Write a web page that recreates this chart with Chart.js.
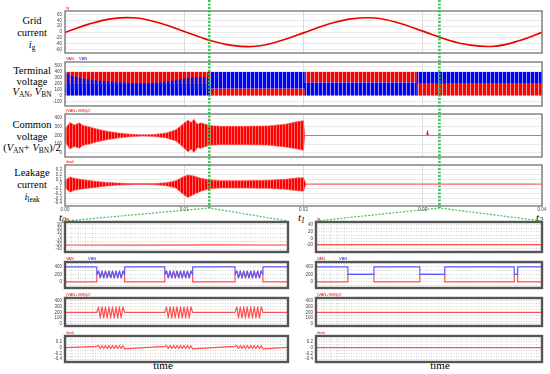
<!DOCTYPE html>
<html>
<head>
<meta charset="utf-8">
<script src="https://cdn.jsdelivr.net/npm/chart.js@4.4.0/dist/chart.umd.min.js"></script>
<style>
  body { margin: 0; width: 550px; height: 374px; position: relative; background: #fff; overflow: hidden; font-family: "Liberation Serif", serif; }
  canvas.p { position: absolute; }
  #ov { position: absolute; left: 0; top: 0; z-index: 5; pointer-events: none; }
  .lbl { position: absolute; left: 0; width: 64px; text-align: center; font-size: 10.5px; color: #000; }
  .lbl sub, .tl sub { font-size: 70%; vertical-align: -2px; line-height: 0; }
  .tl { position: absolute; font-size: 11px; font-style: italic; }
  .time { position: absolute; width: 40px; text-align: center; font-size: 11px; }
</style>
</head>
<body>
<div class="lbl" style="top:15px;line-height:12px">Grid<br>current<br><i>i</i><sub>g</sub></div>
<div class="lbl" style="top:66px;line-height:10.5px">Terminal<br>voltage<br><i>V</i><sub>AN</sub>, <i>V</i><sub>BN</sub></div>
<div class="lbl" style="top:119px;line-height:11.5px">Common<br>voltage<br>(<i>V</i><sub>AN</sub>+ <i>V</i><sub>BN</sub>)/2</div>
<div class="lbl" style="top:167px;line-height:12px">Leakage<br>current<br><i>i</i><sub>leak</sub></div>
<div class="tl" style="left:59px;top:211px">t<sub>0</sub></div>
<div class="tl" style="left:298px;top:211px">t<sub>1</sub></div>
<div class="tl" style="left:536px;top:211px">t<sub>2</sub></div>
<div class="time" style="left:143px;top:359px">time</div>
<div class="time" style="left:420px;top:359px">time</div>
<canvas id="ov" width="550" height="374"></canvas>
<script>
// main traces, time in seconds
const tTicks = [0, 0.01, 0.02, 0.03, 0.04];
const tTickLabels = ["0.00", "0.01", "0.02", "0.03", "0.04"];
const zoomT = [0.0121, 0.0314];

const igT = [0, 0.002, 0.004, 0.006, 0.008, 0.010, 0.012, 0.014, 0.016, 0.018, 0.020,
             0.022, 0.024, 0.026, 0.028, 0.030, 0.032, 0.034, 0.036, 0.038, 0.040];
const igA = [-2, 27, 46, 48, 30, 2, -27, -46, -49, -31, -3, 26, 45, 48, 31, 3, -26, -45, -49, -31, -1];
const igTicks = [-60, -40, -20, 0, 20, 40, 60];

// terminal voltage: red / blue switching bands
const tvT   = [0, 0.0122, 0.0122, 0.0201, 0.0201, 0.0295, 0.0295, 0.04];
const vanHi = [400, 400, 120, 120, 400, 400, 200, 200];
const vanLo = [200, 200, 0, 0, 220, 220, 0, 0];
const vbnHi = [200, 200, 400, 400, 220, 220, 400, 400];
const vbnLo = [0, 0, 120, 120, 0, 0, 200, 200];
const noiseT  = [0, 0.0006, 0.0015, 0.0025, 0.0035, 0.0045, 0.006, 0.0075, 0.0085, 0.0095, 0.0105, 0.0115, 0.0122];
const noiseHi = [390, 330, 290, 260, 240, 225, 212, 215, 235, 270, 300, 310, 300];
const noiseLo = [40, 90, 125, 150, 165, 180, 190, 185, 165, 130, 105, 100, 110];
const tvTicks = [-100, 0, 100, 200, 300, 400, 500];

// common voltage envelope
const cvT  = [0, 0.0004, 0.0008, 0.0012, 0.0015, 0.002, 0.0025, 0.0035, 0.0045, 0.0055, 0.0065, 0.0075, 0.0085, 0.0093, 0.0098, 0.0103,
              0.0106, 0.0108, 0.0111, 0.0114, 0.0121, 0.0130, 0.0150, 0.0170, 0.0185, 0.0195, 0.0200, 0.0201, 0.0303, 0.0304, 0.0305, 0.0400];
const cvHi = [270, 350, 320, 345, 315, 300, 280, 250, 228, 214, 208, 212, 230, 265, 320, 375, 350, 385, 330, 345, 315, 305, 305, 310, 330, 360, 370, 200, 200, 262, 200, 200];
const cvLo = [130, 45, 75, 55, 88, 100, 122, 152, 173, 187, 193, 189, 172, 138, 80, 15, 45, 5, 60, 55, 88, 95, 95, 90, 68, 45, 30, 200, 200, 200, 200, 200];
const cvTicks = [0, 100, 200, 300, 400];

// leakage current envelope
const lkT  = [0, 0.0004, 0.0008, 0.0015, 0.0025, 0.0035, 0.0045, 0.0055, 0.0065, 0.0075, 0.0085, 0.0093, 0.0098, 0.0103,
              0.0108, 0.0114, 0.0121, 0.0130, 0.0150, 0.0170, 0.0185, 0.0195, 0.0200, 0.0202, 0.0400];
const lkHi = [0.07, 0.15, 0.12, 0.09, 0.06, 0.035, 0.02, 0.012, 0.01, 0.012, 0.03, 0.07, 0.14, 0.19, 0.17, 0.12, 0.09, 0.07, 0.07, 0.08, 0.10, 0.13, 0.13, 0, 0];
const lkLo = [-0.07, -0.17, -0.13, -0.10, -0.07, -0.04, -0.022, -0.013, -0.01, -0.013, -0.035, -0.08, -0.19, -0.28, -0.22, -0.15, -0.10, -0.08, -0.08, -0.09, -0.11, -0.14, -0.15, 0, 0];
const lkTicks = [-0.4, -0.3, -0.2, -0.1, 0, 0.1, 0.2, 0.3];

// zoom window 1 (around zoomT[0])
const w1Range = [-8.75, 11.25];
const w1Bursts = [-5.9, 0.2, 6.5];
const w1BurstLen = 2.5;
const w1Ig = [-20, -20.5, -19.5, -20];
const vBurst  = [200, 290, 110, 290, 110, 290, 110, 290, 110, 290, 110, 290, 110, 290, 110, 290, 200];
const cvBurst = [200, 295, 105, 295, 105, 295, 105, 295, 105, 295, 105, 295, 105, 295, 105, 295, 200];
const lkBurst = [0.05, 0.08, -0.03, 0.08, -0.03, 0.08, -0.03, 0.08, -0.03, 0.08, -0.03, 0.08, -0.03, 0.08, -0.03, 0.07, -0.04];

// zoom window 2 (around zoomT[1])
const w2Range = [-3.2, 17.2];
const w2Mid = [[-0.32, 2.03], [6.17, 8.42], [14.7, 15.0]];
const w2Ig = [-19, -19];
const zoomMajors = [0, 10];

const AX = 22, PAD = 2;
const RED = "#ff0000", BLUE = "#0000ff";

function stripes(c1, c2, w1, w2) {
  const cv = document.createElement("canvas");
  cv.width = w1 + w2; cv.height = 1;
  const g = cv.getContext("2d");
  g.fillStyle = c1; g.fillRect(0, 0, w1, 1);
  g.fillStyle = c2; g.fillRect(w1, 0, w2, 1);
  return g.createPattern(cv, "repeat");
}
const redBand = stripes("#ff0000", "#ff9a9a", 3, 1);
const blueBand = stripes("#0000ff", "#9a9aff", 3, 1);
const blueNoise = stripes("#0010e0", "rgba(60,60,255,0.25)", 2, 2);
const redEnv = stripes("#ff0000", "#ff6a6a", 2, 1);

const pts = (xs, ys) => xs.map((x, i) => ({ x: x, y: ys[i] }));

const frame = {
  id: "frame",
  afterDraw(c, args, o) {
    const a = c.chartArea, g = c.ctx;
    g.save();
    g.strokeStyle = o.color; g.lineWidth = o.width;
    g.strokeRect(a.left, a.top, a.right - a.left, a.bottom - a.top);
    g.restore();
  }
};

function gridTicks(min, max, step) {
  const t = [];
  for (let v = Math.ceil(min / step) * step; v <= max + 1e-9; v += step) t.push({ value: +v.toFixed(5) });
  return t;
}

function panel(box, cfg) {
  const xh = cfg.xLabels ? 7 : 0;
  const cv = document.createElement("canvas");
  cv.className = "p";
  cv.width = box[2] - box[0] + AX + 6;
  cv.height = box[3] - box[1] + PAD * 2 + xh;
  cv.style.left = (box[0] - AX) + "px";
  cv.style.top = (box[1] - PAD) + "px";
  document.body.appendChild(cv);
  const z = cfg.zoom;
  const tickFont = { size: 4.5, family: "Arial" };
  const xGrid = z
    ? { color: c => zoomMajors.some(m => Math.abs(c.tick.value - m) < 1e-6) ? "#8a8a8a" : "#cfcfcf", lineWidth: 0.8, drawTicks: false }
    : { color: "#d2d2d2", lineWidth: 0.8, drawTicks: false };
  const yGrid = z
    ? { color: "#c4c4c4", lineWidth: 0.8, drawTicks: false }
    : { color: "#e4e4e4", lineWidth: 0.8, drawTicks: false };
  const border = z ? { display: false, dash: [1, 1.5] } : { display: false };
  return new Chart(cv, {
    type: "line",
    data: { datasets: cfg.datasets },
    options: {
      responsive: false, animation: false, events: [],
      layout: { padding: { top: PAD, right: 6, bottom: PAD, left: 0 } },
      plugins: { legend: { display: false }, tooltip: { enabled: false },
                 frame: z ? { color: "#555", width: 2.4 } : { color: "#7d7d7d", width: 1.4 } },
      elements: { point: { radius: 0 }, line: { tension: 0, borderJoinStyle: "round" } },
      scales: {
        x: {
          type: "linear", min: cfg.x[0], max: cfg.x[1],
          afterBuildTicks: s => { s.ticks = z ? gridTicks(cfg.x[0], cfg.x[1], 0.625) : tTicks.map(v => ({ value: v })); },
          afterFit: s => { s.height = xh; s.paddingLeft = 0; s.paddingRight = 0; },
          ticks: { display: !!cfg.xLabels, autoSkip: false, maxRotation: 0, padding: 1, font: tickFont, color: "#444",
                   callback: (v, i) => tTickLabels[i] },
          grid: xGrid, border: border
        },
        y: {
          min: cfg.y[0], max: cfg.y[1],
          afterBuildTicks: s => { s.ticks = cfg.yTicks.map(v => ({ value: v })); },
          afterFit: s => { s.width = AX; s.paddingTop = 0; s.paddingBottom = 0; },
          ticks: { padding: 3, font: tickFont, color: "#444", autoSkip: false,
                   callback: cfg.yLabel || (v => String(v)) },
          grid: yGrid, border: border
        }
      }
    },
    plugins: [frame]
  });
}

function band(hiPts, loPts, fillStyle, edge, width) {
  return [
    { data: hiPts, borderColor: edge || "transparent", borderWidth: width || 0, fill: false },
    { data: loPts, borderColor: edge || "transparent", borderWidth: width || 0, backgroundColor: fillStyle, fill: "-1" }
  ];
}

// top panels
const L = 65, R = 542;
const p1 = panel([L, 11, R, 53], {
  x: [0, 0.04], y: [-72, 72], yTicks: igTicks,
  datasets: [{ data: pts(igT, igA), borderColor: "#ee0000", borderWidth: 1.6, tension: 0.4 }]
});
const p2 = panel([L, 62, R, 106], {
  x: [0, 0.04], y: [-180, 570], yTicks: tvTicks,
  datasets: [
    ...band(pts(noiseT, noiseHi), pts(noiseT, noiseLo), blueNoise),
    ...band(pts(tvT, vbnHi), pts(tvT, vbnLo), blueBand),
    ...band(pts(tvT, vanHi), pts(tvT, vanLo), redBand)
  ]
});
const p3 = panel([L, 114, R, 157], {
  x: [0, 0.04], y: [-46, 446], yTicks: cvTicks,
  datasets: band(pts(cvT, cvHi), pts(cvT, cvLo), redEnv, "#ff4a4a", 0.6)
});
const p4 = panel([L, 165, R, 206], {
  x: [0, 0.04], y: [-0.46, 0.4], yTicks: lkTicks, xLabels: true,
  datasets: band(pts(lkT, lkHi), pts(lkT, lkLo), redEnv, "#ff4a4a", 0.6)
});

// zoom window helpers
function withBursts(edge, gapA, gapB, shape) {
  const out = [{ x: w1Range[0], y: edge[0] }];
  w1Bursts.forEach(s => {
    out.push({ x: s, y: gapB });
    shape.forEach((v, i) => out.push({ x: s + i * w1BurstLen / (shape.length - 1), y: v }));
    out.push({ x: s + w1BurstLen, y: gapA });
  });
  out.push({ x: w1Range[1], y: edge[1] });
  return out;
}
function withSteps(base, mid) {
  const out = [{ x: w2Range[0], y: base }];
  w2Mid.forEach(([a, b]) => {
    out.push({ x: a, y: base }, { x: a, y: mid }, { x: b, y: mid }, { x: b, y: base });
  });
  out.push({ x: w2Range[1], y: base });
  return out;
}
const flat = (range, ys) => ys.map((y, i) => ({ x: range[0] + i * (range[1] - range[0]) / (ys.length - 1), y: y }));

const LRED = "#ff5050", LBLUE = "#5a5aff";
const line = (data, color) => ({ data: data, borderColor: color, borderWidth: 1.2 });
const even = (v, k) => Math.abs(Math.round(v / k) % 2) === 0 ? String(v) : "";

const ZL = [65, 288], ZR = [316, 542];
const rows = [[222, 252], [262, 288], [298, 326], [336, 362]];

const b1 = panel([ZL[0], rows[0][0], ZL[1], rows[0][1]], {
  zoom: true, x: w1Range, y: [-37.5, 37.5], yTicks: [-30, -20, -10, 0, 10, 20, 30],
  datasets: [line(flat(w1Range, w1Ig), LRED)]
});
panel([ZL[0], rows[1][0], ZL[1], rows[1][1]], {
  zoom: true, x: w1Range, y: [-160, 530], yTicks: [-100, 0, 100, 200, 300, 400, 500], yLabel: v => v >= 0 && v <= 400 ? even(v, 100) : "",
  datasets: [line(withBursts([400, 400], 400, 400, vBurst), LBLUE), line(withBursts([0, 0], 0, 0, vBurst), LRED)]
});
panel([ZL[0], rows[2][0], ZL[1], rows[2][1]], {
  zoom: true, x: w1Range, y: [-35, 450], yTicks: [0, 50, 100, 150, 200, 250, 300, 350, 400], yLabel: v => v % 100 === 0 ? String(v) : "",
  datasets: [line(withBursts([200, 200], 200, 200, cvBurst), LRED)]
});
panel([ZL[0], rows[3][0], ZL[1], rows[3][1]], {
  zoom: true, x: w1Range, y: [-0.5, 0.41], yTicks: [-0.4, -0.3, -0.2, -0.1, 0, 0.1, 0.2, 0.3, 0.4], yLabel: v => v < 0.35 ? even(v, 0.1) : "",
  datasets: [line(withBursts([0, 0.01], -0.04, 0.05, lkBurst), LRED)]
});

const b5 = panel([ZR[0], rows[0][0], ZR[1], rows[0][1]], {
  zoom: true, x: w2Range, y: [-41, 49], yTicks: [-40, -30, -20, -10, 0, 10, 20, 30, 40], yLabel: v => v > -30 ? even(v, 10) : "",
  datasets: [line(flat(w2Range, w2Ig), LRED)]
});
panel([ZR[0], rows[1][0], ZR[1], rows[1][1]], {
  zoom: true, x: w2Range, y: [-160, 530], yTicks: [-100, 0, 100, 200, 300, 400, 500], yLabel: v => v >= 0 && v <= 400 ? even(v, 100) : "",
  datasets: [line(withSteps(400, 200), LBLUE), line(withSteps(0, 200), LRED)]
});
panel([ZR[0], rows[2][0], ZR[1], rows[2][1]], {
  zoom: true, x: w2Range, y: [-35, 450], yTicks: [0, 50, 100, 150, 200, 250, 300, 350, 400], yLabel: v => v % 100 === 0 ? String(v) : "",
  datasets: [line(flat(w2Range, [200, 200]), LRED)]
});
panel([ZR[0], rows[3][0], ZR[1], rows[3][1]], {
  zoom: true, x: w2Range, y: [-0.5, 0.41], yTicks: [-0.4, -0.3, -0.2, -0.1, 0, 0.1, 0.2, 0.3, 0.4], yLabel: v => v < 0.35 ? even(v, 0.1) : "",
  datasets: [line(flat(w2Range, [0, 0]), LRED)]
});

// overlay: zoom markers and small trace names
const g = document.getElementById("ov").getContext("2d");
const area = c => {
  const a = c.chartArea, l = c.canvas.offsetLeft, t = c.canvas.offsetTop;
  return { left: l + a.left, right: l + a.right, top: t + a.top, bottom: t + a.bottom };
};
const a4 = area(p4);
const yEnd = a4.bottom + 2;
g.strokeStyle = "rgba(40,190,70,0.9)";
g.setLineDash([2, 1.5]);
[[zoomT[0], area(b1)], [zoomT[1], area(b5)]].forEach(([t, win]) => {
  const x = p1.canvas.offsetLeft + p1.scales.x.getPixelForValue(t);
  g.lineWidth = 2.6;
  g.beginPath(); g.moveTo(x, 0); g.lineTo(x, yEnd); g.stroke();
  g.lineWidth = 1.2;
  g.beginPath(); g.moveTo(win.left, win.top - 1); g.lineTo(x, yEnd); g.lineTo(win.right, win.top - 1); g.stroke();
});
g.setLineDash([]);

function tag(c, parts) {
  const a = area(c);
  g.font = "4px Arial";
  let x = a.left + 1;
  parts.forEach(([txt, col, dx]) => { g.fillStyle = col; g.fillText(txt, x + (dx || 0), a.top - 2); });
}
const charts = Object.values(Chart.instances);
tag(p1, [["ig", RED]]);
tag(p2, [["VAN", RED], ["VBN", BLUE, 13]]);
tag(p3, [["(VAN+VBN)/2", RED]]);
tag(p4, [["ileak", RED]]);
charts.filter(c => c !== p1 && c !== p2 && c !== p3 && c !== p4).forEach((c, i) => {
  const k = i % 4;
  if (k === 0) tag(c, [["ig", RED]]);
  if (k === 1) tag(c, [["VAN", RED], ["VBN", BLUE, 22]]);
  if (k === 2) tag(c, [["(VAN+VBN)/2", RED]]);
  if (k === 3) tag(c, [["ileak", RED]]);
});
</script>
</body>
</html>
